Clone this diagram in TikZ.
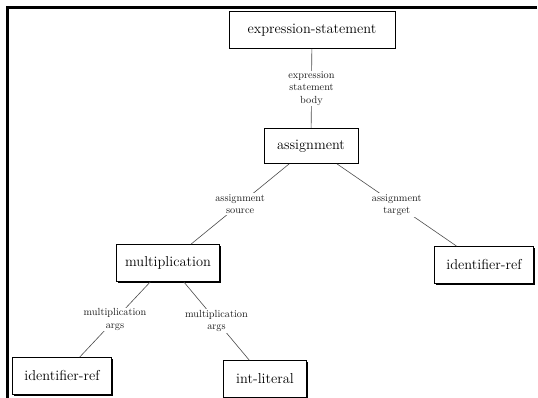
\documentclass[tikz,border=0pt]{standalone}
\usetikzlibrary{shadows}
\begin{document}
\begin{tikzpicture}[x=1pt,y=-1pt,
  treebox/.style={draw=black, line width=0.8pt, fill=white, inner sep=0pt,
    minimum height=37pt, font=\fontsize{14.4}{16}\selectfont,
    drop shadow={shadow xshift=1pt, shadow yshift=-1pt, fill=black, opacity=1}},
  edgelabel/.style={fill=white, inner sep=1pt, align=center, text=black!90,
    font=\fontsize{10.3}{12.5}\selectfont},
  link/.style={draw=black!70, line width=0.6pt}]
\useasboundingbox (0,0) rectangle (538,398);
\fill[white] (0,0) rectangle (538,398);
\draw[line width=3pt] (537,7.5) -- (7.5,7.5) -- (7.5,398);

\node[treebox, minimum width=166pt] (es) at (312,30) {expression-statement};
\node[treebox, minimum width=94pt, minimum height=35pt] (as) at (311,146) {assignment};
\node[treebox, minimum width=103pt] (mu) at (168,263) {multiplication};
\node[treebox, minimum width=99pt] (ir) at (484,265) {identifier-ref};
\node[treebox, minimum width=99pt] (il) at (62,376) {identifier-ref};
\node[treebox, minimum width=83pt] (lit) at (265,379) {int-literal};

\path[link] (es) -- node[edgelabel] (l1) {expression\\statement\\body} (as);
\path[link] (as) -- node[edgelabel] (l2) {assignment\\source} (mu);
\path[link] (as) -- node[edgelabel] (l3) {assignment\\target} (ir);
\path[link] (mu) -- node[edgelabel] (l4) {multiplication\\args} (il);
\path[link] (mu) -- node[edgelabel] (l5) {multiplication\\args} (lit);
\end{tikzpicture}
\end{document}
